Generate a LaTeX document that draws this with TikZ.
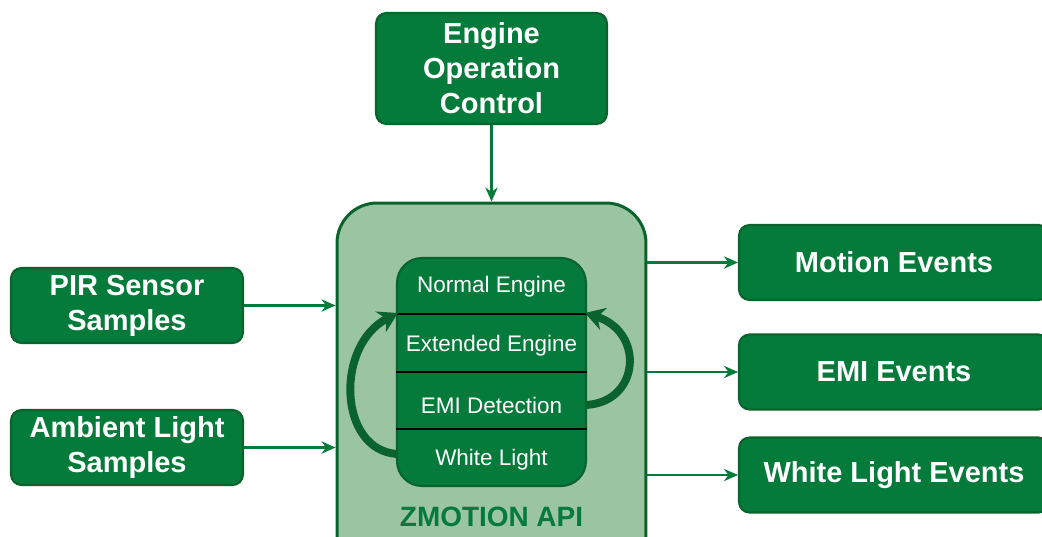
\documentclass[tikz,border=0pt]{standalone}
\usepackage{fontspec}
\setmainfont{Liberation Sans}
\usetikzlibrary{arrows.meta}
\definecolor{zgreen}{RGB}{4,123,58}
\definecolor{zedge}{RGB}{10,98,44}
\definecolor{zpale}{RGB}{155,196,160}
\tikzset{>={Stealth[length=8pt,width=7pt]},
  block/.style={draw=zedge,line width=1.2pt,fill=zgreen,rounded corners=6pt,
    text=white,font=\fontsize{16.5}{19.9}\selectfont\bfseries,align=center,inner sep=0pt},
  flow/.style={->,draw=zgreen,line width=1.3pt},
  row/.style={text=white,font=\fontsize{12.8}{15}\selectfont},
  loop/.style={-{Stealth[length=11pt,width=13pt]},draw=zedge,line width=4.5pt}
}

\begin{document}
\begin{tikzpicture}[x=0.02cm,y=-0.02cm]
            \clip (0,0) rectangle (1042,537);
            % api box and the engine stack inside it
            \node[draw=zedge,line width=1.7pt,fill=zpale,rounded corners=0.8cm,
                minimum width=6.18cm,minimum height=7.54cm] (api) at (491.5,391.5) {};
            \node[text=zgreen,font=\fontsize{15.9}{18}\selectfont\bfseries] (apiname) at (491.5,517) {ZMOTION API};
            \node[draw=zedge,line width=1.2pt,fill=zgreen,rounded corners=0.5cm,
                minimum width=3.78cm,minimum height=4.56cm] (stack) at (491.5,372) {};
            \node[row] (normal) at (491.5,287) {Normal Engine};
            \node[row] (extended) at (491.5,346) {Extended Engine};
            \node[row] (emi) at (491.5,405) {EMI Detection};
            \node[row] (white) at (491.5,460) {White Light};
            \foreach \y in {314,372,429}
                \draw[line width=1.2pt] (stack.west |- 0,\y) -- (stack.east |- 0,\y);
            \coordinate (lstart) at (397,454);
            \coordinate (lend) at (398,313);
            \coordinate (rstart) at (586,405);
            \coordinate (rend) at (585,313);
            \draw[loop] (lstart) .. controls (338,450) and (335,345) .. (lend);
            \draw[loop] (rstart) .. controls (640,402) and (645,332) .. (rend);
            % inputs
            \node[block,minimum width=4.62cm,minimum height=2.22cm] (engine) at (491.5,68.5)
                {Engine\\Operation\\Control};
            \node[block,minimum width=4.64cm,minimum height=1.5cm] (pir) at (127,305.5)
                {PIR Sensor\\Samples};
            \node[block,minimum width=4.64cm,minimum height=1.5cm] (ambient) at (127,447.5)
                {Ambient Light\\Samples};
            % outputs
            \node[block,minimum width=6.2cm,minimum height=1.5cm] (motion) at (894,262.5) {Motion Events};
            \node[block,minimum width=6.2cm,minimum height=1.5cm] (emiev) at (894,372) {EMI Events};
            \node[block,minimum width=6.2cm,minimum height=1.5cm] (whiteev) at (894,475) {White Light Events};
            \draw[flow] (engine) -- (api);
            \draw[flow] (pir) -- (pir -| api.west);
            \draw[flow] (ambient) -- (ambient -| api.west);
            \draw[flow] (api.east |- motion) -- (motion);
            \draw[flow] (api.east |- emiev) -- (emiev);
            \draw[flow] (api.east |- whiteev) -- (whiteev);
        \end{tikzpicture}
\end{document}
